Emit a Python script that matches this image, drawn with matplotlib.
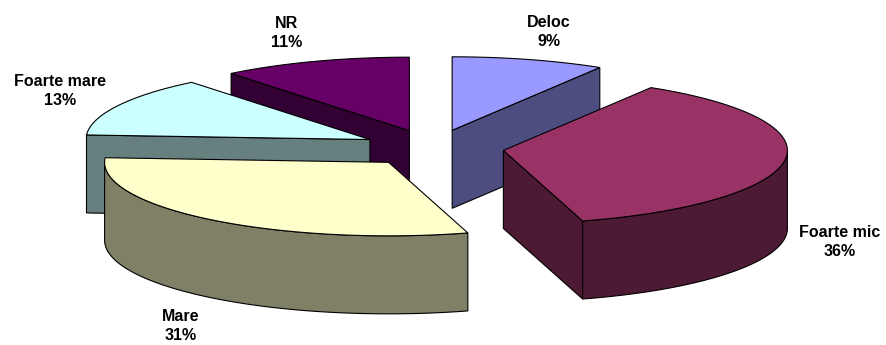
import numpy as np
import matplotlib
matplotlib.use("Agg")
import matplotlib.pyplot as plt
from matplotlib.patches import Polygon

# Slices, clockwise from the top
labels = ["Deloc", "Foarte mic", "Mare", "Foarte mare", "NR"]
values = [8.7, 36.8, 30.5, 13.2, 10.8]
percents = ["9%", "36%", "31%", "13%", "11%"]
top_colors = ["#9999FF", "#993366", "#FFFFCC", "#CCFFFF", "#660066"]
side_colors = ["#4D4D80", "#4D1A33", "#808066", "#668080", "#330033"]

# Pie geometry in pixels
cx, cy = 433, 148
rx, ry = 284, 73.5
depth = 78
explode = 0.25

fig = plt.figure(figsize=(8.86, 3.45), dpi=100)
ax = fig.add_axes([0, 0, 1, 1])
ax.set_xlim(0, 886)
ax.set_ylim(345, 0)
ax.axis("off")

edges = 360 * np.cumsum([0] + values) / sum(values)


def draw_poly(points, color):
    ax.add_patch(Polygon(points, closed=True, facecolor=color, edgecolor="black", linewidth=0.8))


def draw_slice(i):
    a1, a2 = np.radians(edges[i]), np.radians(edges[i + 1])
    mid = (a1 + a2) / 2
    tip = np.array([cx + explode * rx * np.sin(mid), cy - explode * ry * np.cos(mid)])
    t = np.linspace(a1, a2, 200)
    arc = np.column_stack([tip[0] + rx * np.sin(t), tip[1] - ry * np.cos(t)])
    down = np.array([0, depth])

    # cut faces turned toward the viewer
    if np.sin(a1) < 0:
        draw_poly([tip, arc[0], arc[0] + down, tip + down], side_colors[i])
    if np.sin(a2) > 0:
        draw_poly([tip, arc[-1], arc[-1] + down, tip + down], side_colors[i])

    # outer wall, front half only
    front = arc[np.cos(t) <= 0]
    if len(front) > 1:
        draw_poly(np.vstack([front, (front + down)[::-1]]), side_colors[i])

    draw_poly(np.vstack([tip, arc]), top_colors[i])


# back to front
for i in [0, 4, 3, 1, 2]:
    draw_slice(i)

label_pos = [(549, 32), (840, 242), (181, 326), (60, 91), (287, 33)]
for name, pct, pos in zip(labels, percents, label_pos):
    ax.text(pos[0], pos[1], f"{name}\n{pct}", ha="center", va="center", fontsize=11.5,
            fontweight="bold", family="Liberation Sans", linespacing=1.3)

fig.savefig("out.png", dpi=100)
